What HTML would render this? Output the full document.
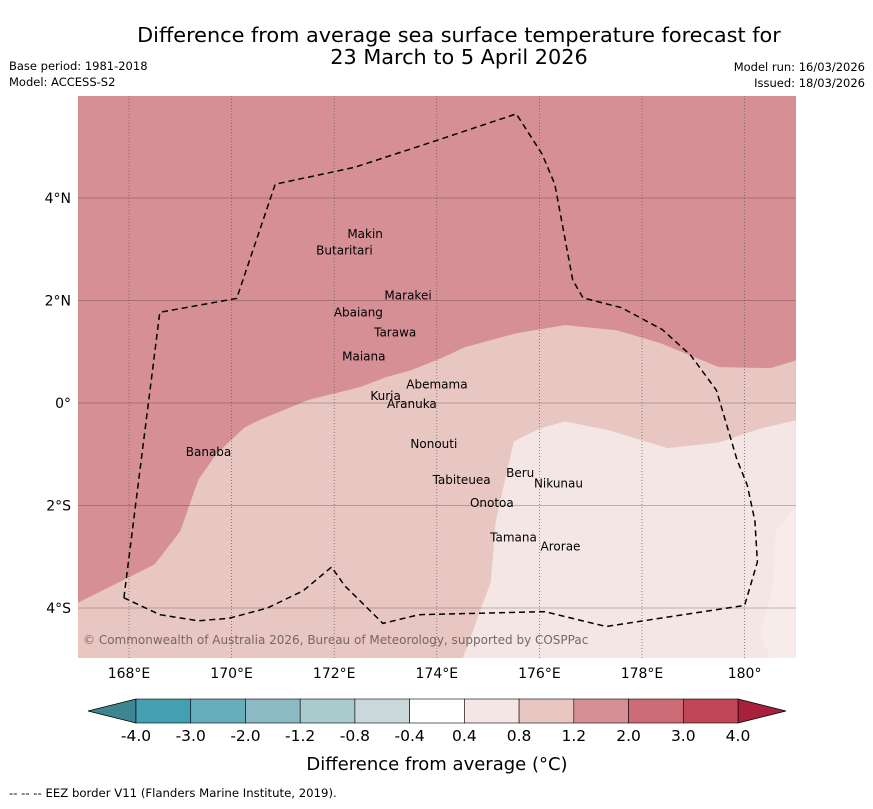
<!DOCTYPE html>
<html><head><meta charset="utf-8"><style>
body{margin:0;background:#fff;font-family:"Liberation Sans","DejaVu Sans",sans-serif;}
svg text{font-family:"DejaVu Sans","Liberation Sans",sans-serif;}
</style></head><body>
<svg id="c" width="873" height="804" xmlns="http://www.w3.org/2000/svg">
<text x="459" y="42" font-size="20.8" text-anchor="middle">Difference from average sea surface temperature forecast for</text>
<text x="459" y="64" font-size="20.8" text-anchor="middle">23 March to 5 April 2026</text>
<text x="9" y="70" font-size="11.5">Base period: 1981-2018</text>
<text x="9" y="86" font-size="11.5">Model: ACCESS-S2</text>
<text x="865" y="71" font-size="11.5" text-anchor="end">Model run: 16/03/2026</text>
<text x="865" y="87" font-size="11.5" text-anchor="end">Issued: 18/03/2026</text>
<defs><clipPath id="mc"><rect x="78" y="96" width="718" height="562"/></clipPath></defs>
<g id="map" clip-path="url(#mc)"></g>
<g id="axes"></g>
<g id="cbar"></g>
<text x="437" y="770" font-size="18" text-anchor="middle">Difference from average (°C)</text>
<text x="9" y="797" font-size="11.7">--  --  -- EEZ border V11 (Flanders Marine Institute, 2019).</text>
</svg>
<script>
const lonTicks=[168,170,172,174,176,178,180];
const latTicks=[4,2,0,-2,-4];
const cbLevels=["-4.0","-3.0","-2.0","-1.2","-0.8","-0.4","0.4","0.8","1.2","2.0","3.0","4.0"];
const cbColors=["#43a0b1","#68adbb","#8bbac5","#a9cbce","#cad8dc","#ffffff","#f4e6e4","#e8c7c2","#d78f96","#cc6b75","#c04555"];
const band12=[[167,-3.9],[168.5,-3.15],[169,-2.5],[169.35,-1.5],[169.7,-1.0],[170.25,-0.48],[170.55,-0.33],[171.5,0.06],[172.5,0.31],[173,0.5],[173.5,0.64],[174.1,0.88],[174.55,1.09],[175.55,1.36],[176.5,1.52],[177.5,1.42],[178.35,1.17],[179.5,0.7],[180.5,0.68],[181,0.83]];
const band04=[[174.5,-5],[175.05,-3.5],[175.15,-2.3],[175.5,-0.75],[176.0,-0.5],[176.5,-0.36],[177.35,-0.53],[178.5,-0.88],[179.5,-0.77],[180.3,-0.5],[181,-0.34],[181,-2.0],[180.6,-2.5],[180.55,-3.55],[180.3,-4.5],[180.5,-5]];
const bandW=[[181,-2.0],[180.6,-2.5],[180.55,-3.55],[180.3,-4.5],[180.5,-5],[181,-5]];
const eez=[[167.9,-3.8],[168.6,1.77],[170.1,2.04],[170.85,4.27],[172.4,4.6],[173.9,5.09],[175.55,5.64],[176.05,4.86],[176.3,4.27],[176.65,2.4],[176.85,2.05],[177.6,1.86],[178.4,1.43],[178.95,0.93],[179.45,0.25],[179.85,-1.1],[180.05,-1.6],[180.2,-2.3],[180.25,-3.1],[180.0,-3.95],[177.3,-4.36],[176.1,-4.07],[173.65,-4.13],[172.95,-4.3],[172.2,-3.56],[171.95,-3.2],[171.4,-3.66],[170.7,-4.0],[169.95,-4.2],[169.35,-4.25],[168.6,-4.13],[167.9,-3.8]];
const islands=[["Makin",172.95,3.22,"end"],["Butaritari",172.75,2.9,"end"],["Marakei",173.9,2.02,"end"],["Abaiang",172.95,1.69,"end"],["Tarawa",173.6,1.3,"end"],["Maiana",173,0.83,"end"],["Abemama",174.6,0.28,"end"],["Kuria",173.3,0.06,"end"],["Aranuka",174,-0.1,"end"],["Nonouti",174.4,-0.88,"end"],["Banaba",169.55,-1.03,"middle"],["Tabiteuea",175.05,-1.58,"end"],["Beru",175.9,-1.44,"end"],["Nikunau",176.85,-1.65,"end"],["Onotoa",175.5,-2.03,"end"],["Tamana",175.95,-2.7,"end"],["Arorae",176.8,-2.88,"end"]];
const X=lon=>129+(lon-168)*51.3, Y=lat=>403-lat*51.25;
const NS="http://www.w3.org/2000/svg";
function mk(p,t,a){const e=document.createElementNS(NS,t);for(const k in a)e.setAttribute(k,a[k]);p.appendChild(e);return e;}
const map=document.getElementById('map'),axes=document.getElementById('axes'),cb=document.getElementById('cbar');
let r=mk(map,'rect',{x:78,y:96,width:718,height:562,fill:'#d78f96'});


const pts=a=>a.map(p=>X(p[0]).toFixed(1)+','+Y(p[1]).toFixed(1)).join(' ');
let p1=mk(map,'polygon',{points:pts(band12)+' '+X(181)+','+Y(-5)+' '+X(167)+','+Y(-5),fill:'#e8c7c2'});


let p2=mk(map,'polygon',{points:pts(band04),fill:'#f4e6e4'});


let p3=mk(map,'polygon',{points:pts(bandW),fill:'#f7ecea'});


lonTicks.forEach(l=>{let g=mk(map,'line',{x1:X(l),x2:X(l),y1:96,y2:658,stroke:'#555','stroke-width':0.8,'stroke-dasharray':'1,2',opacity:0.8});


let t=mk(axes,'text',{x:X(l),y:678,'font-size':14,'text-anchor':'middle'});t.textContent=l===180?'180°':l+'°E';

});
latTicks.forEach(l=>{let g=mk(map,'line',{x1:78,x2:796,y1:Y(l),y2:Y(l),stroke:'#000','stroke-width':1,opacity:0.22});


let t=mk(axes,'text',{x:71,y:Y(l)+5,'font-size':14,'text-anchor':'end'});t.textContent=l===0?'0°':Math.abs(l)+'°'+(l>0?'N':'S');

});
let e=mk(map,'polyline',{points:pts(eez),fill:'none',stroke:'#000','stroke-width':1.5,'stroke-dasharray':'6,4'});


islands.forEach(i=>{let t=mk(map,'text',{x:X(i[1]),y:Y(i[2]),'font-size':12,'text-anchor':i[3]});t.textContent=i[0];

});
let cr=mk(map,'text',{x:83,y:644,'font-size':12,fill:'#776666'});cr.textContent='© Commonwealth of Australia 2026, Bureau of Meteorology, supported by COSPPac';


const c0=136,c1=738,cy=699,ch=24,sw=(c1-c0)/cbColors.length;
let lt=mk(cb,'polygon',{points:`88,${cy+ch/2} ${c0},${cy} ${c0},${cy+ch}`,fill:'#3d8591',stroke:'#000','stroke-width':0.8});


let rt=mk(cb,'polygon',{points:`786,${cy+ch/2} ${c1},${cy} ${c1},${cy+ch}`,fill:'#a8203b',stroke:'#000','stroke-width':0.8});


cbColors.forEach((c,i)=>{let s=mk(cb,'rect',{x:c0+i*sw,y:cy,width:sw,height:ch,fill:c,stroke:'#000','stroke-width':0.6});

});
cbLevels.forEach((l,i)=>{let t=mk(cb,'text',{x:c0+i*sw,y:741,'font-size':15.5,'text-anchor':'middle'});t.textContent=l;

});
</script>
</body></html>
